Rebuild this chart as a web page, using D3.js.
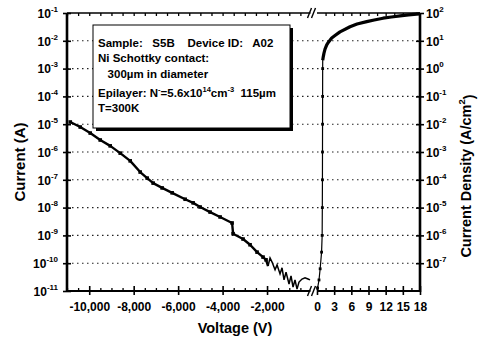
<!DOCTYPE html>
<html>
<head>
<meta charset="utf-8">
<script src="https://cdn.jsdelivr.net/npm/d3@7"></script>
<style>
  html, body { margin: 0; padding: 0; background: #fff; }
  svg { display: block; font-family: "Liberation Sans", Arial, sans-serif; font-weight: bold; }
  .info { white-space: pre; }
</style>
</head>
<body>
<svg id="chart" width="478" height="339"></svg>
<script>
// Reverse-bias sweep: voltage (V) and leakage current (A)
const reverseVoltage = [-10853, -10404, -9955, -9505, -9056, -8606, -8157, -7708, -7393, -7124,
  -6720, -6269, -5685, -5325, -5011, -4562, -4112, -3573, -3528, -3079, -2764, -2449, -2180, -2045,
  -1955, -1865, -1775, -1640, -1550, -1416, -1326, -1236, -1146, -1011, -921, -831, -742, -652,
  -562, -427, -292, -157, -67];
const reverseCurrent = [1.20e-5, 7.9e-6, 4.8e-6, 2.7e-6, 1.66e-6, 9.1e-7, 4.8e-7, 1.9e-7, 1.15e-7, 7.6e-8,
  5.1e-8, 3.4e-8, 2.0e-8, 1.48e-8, 1.05e-8, 6.9e-9, 4.6e-9, 2.8e-9, 1.15e-9, 7.4e-10, 4.6e-10, 2.5e-10, 1.66e-10, 1.32e-10,
  7.9e-11, 1.55e-10, 1.10e-10, 5.8e-11, 8.7e-11, 4.1e-11, 6.8e-11, 2.5e-11, 4.8e-11, 1.78e-11, 3.5e-11, 1.38e-11, 2.5e-11, 1.17e-11,
  2.1e-11, 2.7e-11, 3.0e-11, 2.7e-11, 2.5e-11];

// Forward-bias sweep: voltage (V) and current (A)
const forwardVoltage = [0.1, 0.35, 0.55, 0.8, 0.9, 0.93, 0.95, 0.96, 0.97, 0.98, 0.99,
  1.0, 1.1, 1.22, 1.4, 1.7, 2.0, 2.57, 3.2, 4.02, 5.77, 7.0, 8.69, 10.0, 11.53, 13.0, 14.5, 16.0, 17.4, 18.0];
const forwardCurrent = [1.26e-11, 2.5e-11, 6.3e-11, 2.5e-10, 1e-9, 1e-8, 1e-7, 1e-6, 1e-5, 1e-4, 1e-3,
  2.0e-3, 2.7e-3, 3.6e-3, 5.0e-3, 7.1e-3, 8.9e-3, 1.26e-2, 1.58e-2, 2.1e-2, 3.2e-2, 4.0e-2, 4.9e-2, 5.6e-2, 6.5e-2, 7.2e-2, 7.9e-2, 8.5e-2, 9.1e-2, 9.3e-2];

// Axis ticks
const reverseTicks = [-10000, -8000, -6000, -4000, -2000];
const reverseTickLabels = ["-10,000", "-8,000", "-6,000", "-4,000", "-2,000"];
const forwardTicks = [0, 3, 6, 9, 12, 15, 18];
const forwardTickLabels = ["0", "3", "6", "9", "12", "15", "18"];
const currentExponents = [-1, -2, -3, -4, -5, -6, -7, -8, -9, -10, -11];
const densityExponents = [2, 1, 0, -1, -2, -3, -4, -5, -6, -7];

// Text
const xTitle = "Voltage (V)";
const yTitleLeft = "Current (A)";
const yTitleRight = ["Current Density (A/cm", "2", ")"];
const infoLines = [
  "Sample:   S5B    Device ID:   A02",
  "Ni Schottky contact:",
  "   300µm in diameter",
  "Epilayer: N^{-}=5.6x10^{14}cm^{-3}  115µm",
  "T=300K"
];

const svg = d3.select("#chart");
const L = 67, R = 420, T = 13, B = 291;
const breakEnd = 311.5, fwdStart = 317;

const xRev = d3.scaleLinear().domain([-11000, 0]).range([L, breakEnd]);
const xFwd = d3.scaleLinear().domain([0, 18]).range([fwdStart, R]);
const yI = d3.scaleLog().domain([1e-11, 1e-1]).range([B, T]);
const yJ = d3.scaleLog().domain([1e-8, 1e2]).range([B, T]);

// Dotted decade gridlines
const grid = svg.append("g");
currentExponents.slice(1, -1).forEach(e => {
  grid.append("line")
    .attr("x1", L).attr("x2", R)
    .attr("y1", yI(Math.pow(10, e))).attr("y2", yI(Math.pow(10, e)))
    .attr("stroke", "#222").attr("stroke-width", 1.1)
    .attr("stroke-dasharray", "1.5,3.5");
});

// Info box with drop shadow
const box = { x: 93, y: 25, w: 197, h: 103 };
svg.append("rect").attr("x", box.x + 3).attr("y", box.y + 3).attr("width", box.w).attr("height", box.h).attr("fill", "#000");
svg.append("rect").attr("x", box.x).attr("y", box.y).attr("width", box.w).attr("height", box.h)
  .attr("fill", "#fff").attr("stroke", "#000").attr("stroke-width", 1);

const lineY = [47, 62, 78, 97, 112];
infoLines.forEach((ln, i) => {
  const t = svg.append("text").attr("class", "info")
    .attr("x", 98).attr("y", lineY[i]).attr("font-size", 11.5);
  const parts = ln.split(/(\^\{[^}]*\})/).filter(s => s.length);
  let shift = 0;
  parts.forEach(p => {
    const m = p.match(/^\^\{(.*)\}$/);
    if (m) {
      t.append("tspan").attr("font-size", 7.5).attr("dy", -5 - shift).text(m[1]);
      shift = -5;
    } else {
      t.append("tspan").attr("dy", -shift).text(p);
      shift = 0;
    }
  });
});

// Data
svg.append("clipPath").attr("id", "plotClip").append("rect")
  .attr("x", L).attr("y", T - 2).attr("width", R - L).attr("height", B - T + 2);
const data = svg.append("g").attr("clip-path", "url(#plotClip)");

const revPts = reverseVoltage.map((v, i) => [xRev(v), yI(reverseCurrent[i])]);
const fwdPts = forwardVoltage.map((v, i) => [xFwd(v), yI(forwardCurrent[i])]);
const line = d3.line();

// Reverse branch: heavy trace until the noise floor, lighter through it
const noiseIdx = reverseVoltage.findIndex(v => v > -2000);
data.append("path").attr("d", line(revPts.slice(0, noiseIdx + 1)))
  .attr("fill", "none").attr("stroke", "#000").attr("stroke-width", 2.4).attr("stroke-linejoin", "round");
data.append("path").attr("d", line(revPts.slice(noiseIdx)))
  .attr("fill", "none").attr("stroke", "#000").attr("stroke-width", 1.5);
data.selectAll("rect.rev").data(revPts.slice(0, noiseIdx)).join("rect").attr("class", "rev")
  .attr("x", d => d[0] - 1.8).attr("y", d => d[1] - 1.8).attr("width", 3.6).attr("height", 3.6).attr("fill", "#000");

// Forward branch: thin rise, heavy saturation knee
data.append("path").attr("d", line(fwdPts))
  .attr("fill", "none").attr("stroke", "#000").attr("stroke-width", 1.2);
const kneeIdx = forwardVoltage.findIndex(v => v >= 1.0);
data.append("path").attr("d", line(fwdPts.slice(kneeIdx)))
  .attr("fill", "none").attr("stroke", "#000").attr("stroke-width", 3.2).attr("stroke-linejoin", "round");
data.selectAll("rect.fwd").data(fwdPts.slice(0, kneeIdx)).join("rect").attr("class", "fwd")
  .attr("x", d => d[0] - 1.4).attr("y", d => d[1] - 1.4).attr("width", 2.8).attr("height", 2.8).attr("fill", "#000");

// Frame lines
const frame = svg.append("g").attr("stroke", "#000").attr("fill", "none");
frame.append("line").attr("x1", L).attr("x2", L).attr("y1", T).attr("y2", B + 1).attr("stroke-width", 2.6);
frame.append("line").attr("x1", R).attr("x2", R).attr("y1", T).attr("y2", B + 1).attr("stroke-width", 2.6);
frame.append("line").attr("x1", L).attr("x2", breakEnd - 1).attr("y1", T).attr("y2", T).attr("stroke-width", 1.6);
frame.append("line").attr("x1", fwdStart).attr("x2", R).attr("y1", T).attr("y2", T).attr("stroke-width", 1.6);
frame.append("line").attr("x1", L).attr("x2", breakEnd - 1).attr("y1", B).attr("y2", B).attr("stroke-width", 2);
frame.append("line").attr("x1", fwdStart).attr("x2", R).attr("y1", B).attr("y2", B).attr("stroke-width", 2);
// Axis break marks
[T, B].forEach(yb => {
  [breakEnd - 2, breakEnd + 2].forEach(xb => {
    frame.append("line").attr("x1", xb - 2).attr("x2", xb + 2).attr("y1", yb + 5).attr("y2", yb - 5).attr("stroke-width", 1.4);
  });
});

function styleAxis(g) {
  g.select(".domain").remove();
  g.selectAll(".tick line").attr("stroke", "#000").attr("stroke-width", 1.3);
  g.selectAll(".tick text").remove();
}

// Y minor ticks (log)
const minorI = yI.ticks().filter(v => Math.abs(Math.log10(v) - Math.round(Math.log10(v))) > 1e-6);
const minorJ = yJ.ticks().filter(v => Math.abs(Math.log10(v) - Math.round(Math.log10(v))) > 1e-6);
svg.append("g").attr("transform", `translate(${L},0)`)
  .call(d3.axisLeft(yI).tickValues(minorI).tickSize(-3)).call(styleAxis);
svg.append("g").attr("transform", `translate(${R},0)`)
  .call(d3.axisRight(yJ).tickValues(minorJ).tickSize(-3)).call(styleAxis);

// Y major ticks and labels
const leftAxis = svg.append("g").attr("transform", `translate(${L},0)`)
  .call(d3.axisLeft(yI).tickValues(currentExponents.map(e => Math.pow(10, e))).tickSize(4)).call(styleAxis);
leftAxis.selectAll(".tick line").attr("x1", 4).attr("stroke-width", 1.6);
leftAxis.selectAll(".tick").each(function (d) {
  const t = d3.select(this).append("text").attr("x", -9).attr("dy", "0.36em")
    .attr("text-anchor", "end").attr("font-size", 12).attr("fill", "#000");
  t.append("tspan").text("10");
  t.append("tspan").attr("font-size", 8).attr("dy", "-0.75em").text(Math.round(Math.log10(d)));
});

const rightAxis = svg.append("g").attr("transform", `translate(${R},0)`)
  .call(d3.axisRight(yJ).tickValues(densityExponents.map(e => Math.pow(10, e))).tickSize(4)).call(styleAxis);
rightAxis.selectAll(".tick line").attr("x1", -4).attr("stroke-width", 1.6);
rightAxis.selectAll(".tick").each(function (d) {
  const t = d3.select(this).append("text").attr("x", 6).attr("dy", "0.36em")
    .attr("text-anchor", "start").attr("font-size", 12).attr("fill", "#000");
  t.append("tspan").text("10");
  t.append("tspan").attr("font-size", 8).attr("dy", "-0.75em").text(Math.round(Math.log10(d)));
});

// X ticks: minor on bottom and top, major crossing the bottom line
const revMinor = d3.range(-11000, 0, 500).filter(v => !reverseTicks.includes(v));
const fwdMinor = d3.range(1.5, 18, 3);
svg.append("g").attr("transform", `translate(0,${B})`)
  .call(d3.axisBottom(xRev).tickValues(revMinor).tickSize(-3)).call(styleAxis);
svg.append("g").attr("transform", `translate(0,${B})`)
  .call(d3.axisBottom(xFwd).tickValues(fwdMinor).tickSize(-3)).call(styleAxis);
svg.append("g").attr("transform", `translate(0,${T})`)
  .call(d3.axisTop(xRev).tickValues(d3.range(-11000, 0, 500)).tickSize(-3)).call(styleAxis);
svg.append("g").attr("transform", `translate(0,${T})`)
  .call(d3.axisTop(xFwd).tickValues(d3.range(1.5, 18, 1.5)).tickSize(-3)).call(styleAxis);

const revAxis = svg.append("g").attr("transform", `translate(0,${B})`)
  .call(d3.axisBottom(xRev).tickValues(reverseTicks).tickSize(4)).call(styleAxis);
revAxis.selectAll(".tick line").attr("y1", -5).attr("stroke-width", 1.6);
revAxis.selectAll(".tick").append("text").attr("y", 20).attr("text-anchor", "middle")
  .attr("font-size", 12).attr("fill", "#000").text((d, i) => reverseTickLabels[i]);

const fwdAxis = svg.append("g").attr("transform", `translate(0,${B})`)
  .call(d3.axisBottom(xFwd).tickValues(forwardTicks).tickSize(4)).call(styleAxis);
fwdAxis.selectAll(".tick line").attr("y1", -5).attr("stroke-width", 1.6);
fwdAxis.selectAll(".tick").append("text").attr("y", 20).attr("text-anchor", "middle")
  .attr("font-size", 12).attr("fill", "#000").text((d, i) => forwardTickLabels[i]);

// Axis titles
svg.append("text").attr("x", 235).attr("y", 333).attr("text-anchor", "middle")
  .attr("font-size", 14.5).text(xTitle);
svg.append("text").attr("transform", "translate(25,162) rotate(-90)").attr("text-anchor", "middle")
  .attr("font-size", 15).text(yTitleLeft);
const rt = svg.append("text").attr("transform", "translate(471,176) rotate(-90)").attr("text-anchor", "middle")
  .attr("font-size", 14.5);
rt.append("tspan").text(yTitleRight[0]);
rt.append("tspan").attr("font-size", 9.5).attr("dy", "-0.6em").text(yTitleRight[1]);
rt.append("tspan").attr("dy", "0.6em").text(yTitleRight[2]);
</script>
</body>
</html>
